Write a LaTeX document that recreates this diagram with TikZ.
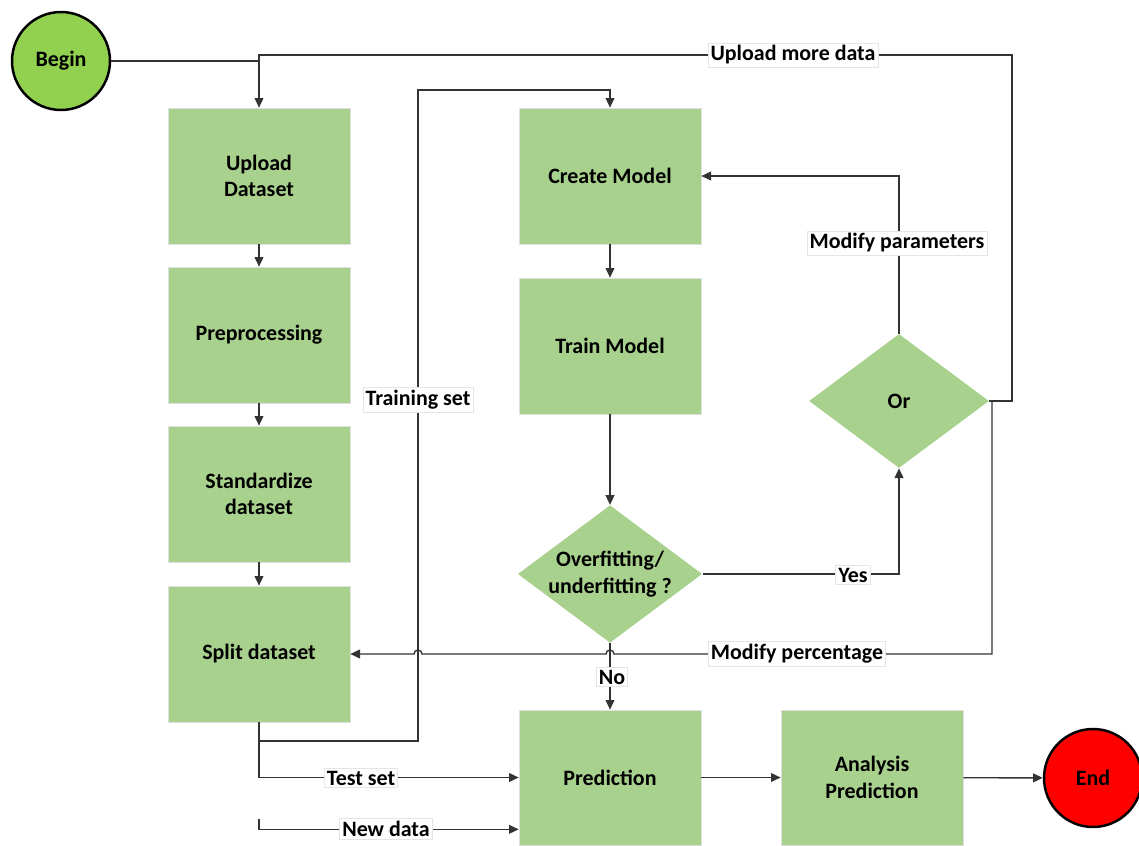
\documentclass[tikz,border=0pt]{standalone}
\usepackage{fontspec}
\setmainfont{Carlito}
\usepackage{tikz}
\usetikzlibrary{arrows.meta,shapes.geometric,calc}
\definecolor{boxgreen}{HTML}{A9D18E}
\definecolor{begingreen}{HTML}{92D050}
\definecolor{endred}{HTML}{FF0000}
\definecolor{linegray}{HTML}{333333}

\tikzset{
  txt/.style={font=\fontsize{12.5}{15}\selectfont\bfseries, align=center},
  stepbox/.style={txt, fill=boxgreen, draw=gray!25, minimum width=3.64cm, minimum height=2.72cm, inner sep=0pt},
  decision/.style={txt, diamond, aspect=1.34, fill=boxgreen, minimum width=3.6cm, minimum height=2.68cm, inner sep=0pt},
  terminal/.style={txt, circle, draw=black, line width=1.4pt, minimum size=1.96cm, inner sep=0pt},
  lbl/.style={txt, fill=white, draw=gray!20, inner sep=1.5pt},
  line/.style={draw=linegray, line width=0.8pt},
  arr/.style={line, -{Triangle[length=5.5pt,width=5pt]}}
}

\begin{document}
\begin{tikzpicture}[x=0.02cm, y=-0.02cm]
\useasboundingbox (0,0) rectangle (1139,845);

\node[terminal, fill=begingreen] (begin) at (61,61) {Begin};
\node[terminal, fill=endred] (end) at (1093,778) {End};

\node[stepbox] (upload) at (259,176) {Upload\\Dataset};
\node[stepbox] (prep) at (259,335) {Preprocessing};
\node[stepbox] (stand) at (259,494) {Standardize\\dataset};
\node[stepbox] (split) at (259,654) {Split dataset};
\node[stepbox] (create) at (610,176) {Create Model};
\node[stepbox] (train) at (610,346) {Train Model};
\node[stepbox, minimum height=2.7cm] (prediction) at (610,777.5) {Prediction};
\node[stepbox, minimum height=2.7cm] (analysis) at (872,777.5) {Analysis\\Prediction};
\node[decision] (over) at (610,574) {Overfitting/\\underfitting ?};
\node[decision] (or) at (899,401) {Or};

\coordinate (newdata) at (259,819);

% left column
\draw[line] (begin) -- (begin -| upload);
\draw[arr] (upload) -- (prep);
\draw[arr] (prep) -- (stand);
\draw[arr] (stand) -- (split);
\draw[arr] (split.south) |- (418,741) -- (418,90) -| (create.north);
\draw[arr] (split.south) |- (prediction.west);
\draw[arr] (newdata) |- ($(prediction.south west)+(0,-16)$);

% model loop
\draw[arr] (create) -- (train);
\draw[arr] (train) -- (over);
\draw[arr] (over) -| (or);
\draw[arr] (or) |- (create);
\draw[arr] (or.east) -- (1012,401) |- (259,55) -- (upload.north);
\draw[arr] (or.east) -| (992,654) -- (614,654) arc[start angle=0, end angle=180, radius=0.08cm]
  -- (422,654) arc[start angle=0, end angle=180, radius=0.08cm] -- (split.east);
\draw[arr] (over) -- (prediction);
\draw[arr] (prediction) -- (analysis);
\draw[arr] (analysis) -- (end);

% labels
\node[lbl] (lupload) at (793,55) {Upload more data};
\node[lbl] (ltrain) at (418,400) {Training set};
\node[lbl] (ltest) at (361,778) {Test set};
\node[lbl] (lnew) at (386,829) {New data};
\node[lbl] (lparam) at (897,243) {Modify parameters};
\node[lbl] (lyes) at (853,575) {Yes};
\node[lbl] (lno) at (612,677) {No};
\node[lbl] (lperc) at (797,654) {Modify percentage};
\end{tikzpicture}
\end{document}
